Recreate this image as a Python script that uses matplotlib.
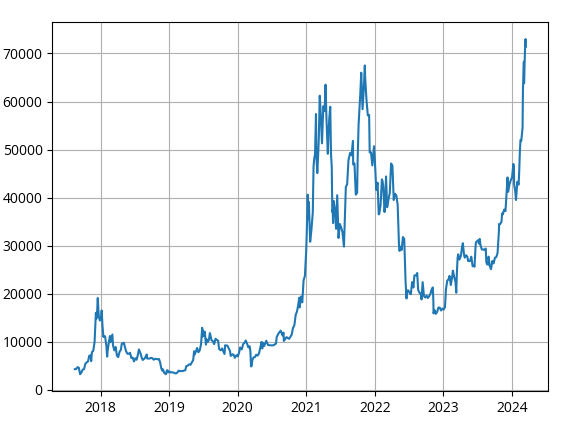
import matplotlib
matplotlib.use("Agg")
import matplotlib.pyplot as plt
import pandas as pd

plt.rcParams['font.family'] = ['Open Sans', 'DejaVu Sans']

dates = [
 "2017-08-17","2017-08-24","2017-08-31","2017-09-07","2017-09-14","2017-09-21","2017-09-28",
 "2017-10-05","2017-10-12","2017-10-19","2017-10-26","2017-11-02","2017-11-09","2017-11-12","2017-11-16",
 "2017-11-23","2017-11-30","2017-12-07","2017-12-10","2017-12-14","2017-12-17","2017-12-22","2017-12-28",
 "2018-01-04","2018-01-07","2018-01-11","2018-01-16","2018-01-18","2018-01-25","2018-02-01","2018-02-05",
 "2018-02-08","2018-02-15","2018-02-20","2018-02-22","2018-03-01","2018-03-05","2018-03-08","2018-03-15",
 "2018-03-22","2018-03-29","2018-04-05","2018-04-12","2018-04-19","2018-04-24","2018-05-03","2018-05-05",
 "2018-05-10","2018-05-17","2018-05-24","2018-05-31","2018-06-07","2018-06-14","2018-06-21","2018-06-28",
 "2018-07-05","2018-07-12","2018-07-19","2018-07-24","2018-08-02","2018-08-09","2018-08-14","2018-08-23",
 "2018-08-30","2018-09-04","2018-09-06","2018-09-13","2018-09-20","2018-09-27","2018-10-04","2018-10-11",
 "2018-10-18","2018-10-25","2018-11-01","2018-11-08","2018-11-14","2018-11-20","2018-11-25","2018-11-29",
 "2018-12-06","2018-12-15","2018-12-20","2018-12-24","2018-12-27",
 "2019-01-03","2019-01-10","2019-01-17","2019-01-24","2019-01-31","2019-02-07","2019-02-14","2019-02-21",
 "2019-02-28","2019-03-07","2019-03-14","2019-03-21","2019-03-28","2019-04-02","2019-04-11","2019-04-18",
 "2019-04-25","2019-05-02","2019-05-09","2019-05-14","2019-05-17","2019-05-23","2019-05-30","2019-06-06",
 "2019-06-13","2019-06-20","2019-06-26","2019-06-27","2019-06-29","2019-07-04","2019-07-10","2019-07-16",
 "2019-07-18","2019-07-25","2019-08-01","2019-08-06","2019-08-15","2019-08-22","2019-08-29","2019-09-05",
 "2019-09-12","2019-09-19","2019-09-24","2019-10-03","2019-10-10","2019-10-17","2019-10-23","2019-10-26",
 "2019-11-07","2019-11-14","2019-11-21","2019-11-25","2019-12-05","2019-12-12","2019-12-17","2019-12-26",
 "2020-01-02","2020-01-09","2020-01-14","2020-01-23","2020-01-30","2020-02-06","2020-02-13","2020-02-20",
 "2020-02-27","2020-03-05","2020-03-09","2020-03-12","2020-03-16","2020-03-19","2020-03-26","2020-04-02",
 "2020-04-09","2020-04-16","2020-04-23","2020-04-30","2020-05-07","2020-05-11","2020-05-14","2020-05-21",
 "2020-06-01","2020-06-11","2020-06-25","2020-07-09","2020-07-23","2020-07-27","2020-08-06","2020-08-17",
 "2020-08-27","2020-09-01","2020-09-03","2020-09-17","2020-10-01","2020-10-15","2020-10-21","2020-10-29",
 "2020-11-05","2020-11-12","2020-11-19","2020-11-24","2020-11-26","2020-12-03","2020-12-10","2020-12-17",
 "2020-12-24","2020-12-31",
 "2021-01-03","2021-01-08","2021-01-11","2021-01-14","2021-01-21","2021-01-28","2021-02-04","2021-02-08",
 "2021-02-11","2021-02-16","2021-02-21","2021-02-23","2021-02-28","2021-03-04","2021-03-08","2021-03-13",
 "2021-03-18","2021-03-25","2021-04-01","2021-04-08","2021-04-13","2021-04-18","2021-04-25","2021-04-29",
 "2021-05-03","2021-05-08","2021-05-12","2021-05-16","2021-05-19","2021-05-21","2021-05-23","2021-05-26",
 "2021-06-02","2021-06-08","2021-06-14","2021-06-21","2021-06-28","2021-07-05","2021-07-12","2021-07-20",
 "2021-07-26","2021-07-30","2021-08-06","2021-08-13","2021-08-22","2021-08-29","2021-09-06","2021-09-07",
 "2021-09-14","2021-09-21","2021-09-28","2021-10-01","2021-10-06","2021-10-15","2021-10-20","2021-10-27",
 "2021-11-03","2021-11-08","2021-11-10","2021-11-17","2021-11-24","2021-12-01","2021-12-04","2021-12-11",
 "2021-12-18","2021-12-27",
 "2022-01-01","2022-01-08","2022-01-15","2022-01-21","2022-01-24","2022-01-31","2022-02-07","2022-02-10",
 "2022-02-14","2022-02-21","2022-02-24","2022-03-01","2022-03-07","2022-03-14","2022-03-21","2022-03-28",
 "2022-04-04","2022-04-11","2022-04-18","2022-04-25","2022-05-02","2022-05-09","2022-05-12","2022-05-16",
 "2022-05-23","2022-05-30","2022-06-06","2022-06-13","2022-06-18","2022-06-20","2022-06-27","2022-07-04",
 "2022-07-11","2022-07-18","2022-07-25","2022-07-30","2022-08-08","2022-08-14","2022-08-19","2022-08-26",
 "2022-09-02","2022-09-06","2022-09-12","2022-09-19","2022-09-26","2022-10-03","2022-10-10","2022-10-17",
 "2022-10-25","2022-10-29","2022-11-05","2022-11-08","2022-11-09","2022-11-14","2022-11-21","2022-11-28",
 "2022-12-05","2022-12-12","2022-12-19","2022-12-26",
 "2023-01-02","2023-01-09","2023-01-14","2023-01-21","2023-01-28","2023-02-02","2023-02-09","2023-02-16",
 "2023-02-20","2023-02-27","2023-03-06","2023-03-10","2023-03-13","2023-03-17","2023-03-20","2023-03-27",
 "2023-04-03","2023-04-10","2023-04-14","2023-04-20","2023-04-24","2023-05-01","2023-05-08","2023-05-12",
 "2023-05-22","2023-05-29","2023-06-05","2023-06-12","2023-06-15","2023-06-21","2023-06-23","2023-07-03",
 "2023-07-10","2023-07-13","2023-07-17","2023-07-24","2023-07-31","2023-08-07","2023-08-14","2023-08-17",
 "2023-08-21","2023-08-28","2023-08-29","2023-09-04","2023-09-11","2023-09-18","2023-09-25","2023-10-02",
 "2023-10-09","2023-10-16","2023-10-23","2023-10-24","2023-10-30","2023-11-06","2023-11-09","2023-11-13",
 "2023-11-20","2023-11-27","2023-12-04","2023-12-08","2023-12-11","2023-12-18","2023-12-25",
 "2024-01-01","2024-01-08","2024-01-11","2024-01-12","2024-01-18","2024-01-22","2024-01-29","2024-02-05",
 "2024-02-08","2024-02-12","2024-02-15","2024-02-19","2024-02-26","2024-02-28","2024-03-04","2024-03-05",
 "2024-03-08","2024-03-11","2024-03-13","2024-03-14",
]

prices = [
 4285,4310,4700,4600,3230,3600,4200,
 4300,5400,5700,5900,7100,7150,5950,7850,
 8100,9900,16000,14800,16500,19100,15500,14400,
 15200,16500,13400,11000,11200,11100,9100,6900,
 8200,10100,11200,9900,10900,11500,9300,8200,
 8900,7100,6800,7900,8300,9600,9700,9800,
 9000,8000,7500,7500,7700,6600,6700,5900,
 6550,6250,7350,8400,7550,6550,6200,6500,
 6950,7350,6500,6500,6500,6650,6550,6250,
 6450,6400,6350,6400,5700,4500,4000,4250,
 3500,3240,4050,4050,3600,
 3800,3600,3650,3580,3450,3400,3600,3980,
 3850,3900,3900,4000,4050,4900,5050,5300,
 5200,5700,6150,8000,7350,7900,8700,7800,
 8200,9500,12900,11000,12400,11200,12100,9400,
 10600,9900,10400,11800,10300,10100,9500,10600,
 10400,10200,8500,8200,8600,8000,7450,9250,
 9200,8650,8100,7050,7400,7200,6650,7200,
 6950,7800,8800,8400,9500,9750,10250,9600,
 8800,9050,7900,4850,5000,6200,6750,6800,
 7300,7100,7500,8650,9950,8600,9800,9100,
 10200,9300,9250,9250,9600,11000,11750,12300,
 11300,11900,10150,10950,10600,11500,12800,13450,
 15600,16300,17800,19150,17150,19400,18200,22800,
 23700,29000,
 32800,40600,35500,39100,30800,33400,36900,46400,
 47900,49100,57400,48800,45100,48400,52300,61200,
 57600,51300,59000,58000,63500,56200,49100,53500,
 56600,58900,49100,46400,37000,37500,34700,39300,
 37500,33500,40500,31600,34500,33800,32800,29800,
 37300,42200,42800,47800,49300,48800,51800,46900,
 47100,40600,41000,48200,55300,61600,66000,58400,
 62900,67500,64900,60300,57100,57200,49400,49400,
 46700,50700,
 47300,41600,43100,36500,36600,38500,43800,43500,
 42500,37000,38300,44400,38000,39600,41000,47100,
 46600,39500,40800,40400,38500,30100,28900,29800,
 29100,31800,31400,22500,19000,20600,20700,20200,
 19900,22400,21300,23800,23800,24300,20800,20200,
 19900,18800,22400,19500,19200,19600,19100,19500,
 20100,20800,21300,18500,15900,16600,15800,16200,
 17100,17100,16500,16900,
 16700,17200,20900,22700,23000,23700,21800,23500,
 24800,23500,22400,20200,24100,27400,28200,27100,
 27800,29700,30500,28200,27500,28000,27700,26800,
 26800,27700,25700,25900,25600,30000,30700,31100,
 30400,31400,30100,29200,29200,29100,29400,26600,
 26100,26100,27700,25800,25100,26800,26300,27500,
 27600,28500,33000,34500,34500,35000,36700,36500,
 37500,37200,41900,44200,41200,42700,43600,
 44200,47000,46300,42800,41300,39500,43300,42700,
 45300,49900,52000,51800,54500,62500,68300,63800,
 68300,72100,73000,71400,
]

x = pd.to_datetime(dates)

fig = plt.figure(figsize=(5.72, 4.26), dpi=100)
ax = fig.add_axes([52.3/572, 35/426, 496/572, 368.7/426])
ax.plot(x, prices)
ax.grid(True)
fig.savefig("out.png", dpi=100)
